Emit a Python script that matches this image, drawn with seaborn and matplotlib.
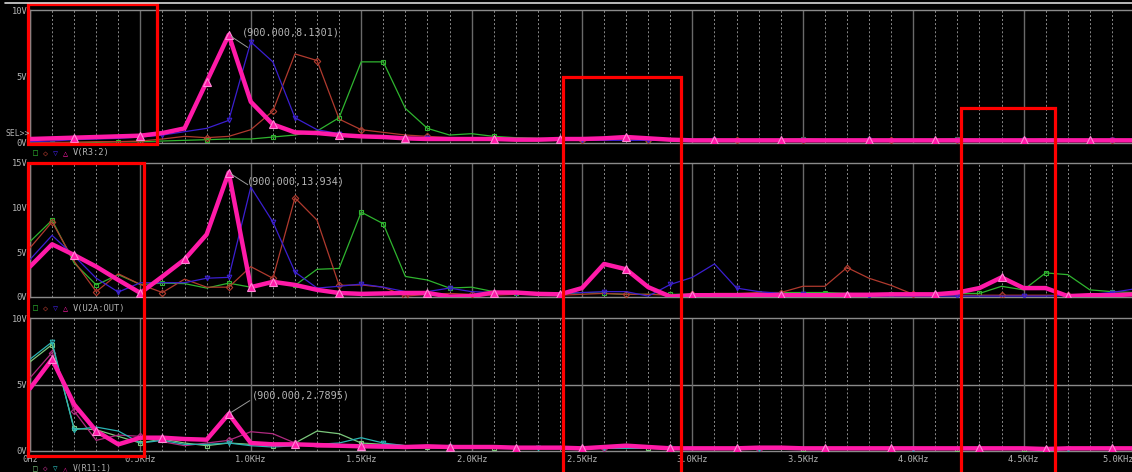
import matplotlib
matplotlib.use('Agg')
import matplotlib.pyplot as plt
import seaborn as sns
from matplotlib.lines import Line2D
from matplotlib.patches import Rectangle

W, H = 1132, 472

# frequency grid, Hz (100 Hz steps)
freq = list(range(0, 5001, 100))

# V(R3:2)
r3_green = [0.0, 0.0, 0.05, 0.05, 0.1, 0.1, 0.15, 0.2, 0.25, 0.3, 0.3, 0.45, 0.6, 0.9, 1.9, 6.1, 6.1, 2.6, 1.1, 0.6,
            0.7, 0.5, 0.4, 0.35, 0.3, 0.3, 0.25, 0.3, 0.25, 0.25, 0.25, 0.25, 0.2, 0.25, 0.25, 0.3, 0.25, 0.2, 0.25, 0.25,
            0.2, 0.25, 0.3, 0.25, 0.25, 0.2, 0.3, 0.25, 0.2, 0.25, 0.25]
r3_brown = [0.0, 0.05, 0.05, 0.1, 0.1, 0.15, 0.3, 0.5, 0.4, 0.5, 1.0, 2.4, 6.7, 6.2, 1.8, 1.0, 0.8, 0.6, 0.5, 0.4,
            0.35, 0.3, 0.25, 0.2, 0.2, 0.2, 0.25, 0.25, 0.2, 0.2, 0.2, 0.2, 0.25, 0.2, 0.2, 0.2, 0.25, 0.2, 0.2, 0.2,
            0.2, 0.2, 0.2, 0.2, 0.2, 0.2, 0.2, 0.2, 0.2, 0.2, 0.2]
r3_blue = [0.1, 0.15, 0.25, 0.3, 0.35, 0.45, 0.6, 0.85, 1.1, 1.7, 7.6, 6.1, 1.9, 1.0, 0.7, 0.5, 0.45, 0.4, 0.35, 0.3,
           0.25, 0.2, 0.2, 0.2, 0.2, 0.2, 0.2, 0.2, 0.2, 0.2, 0.2, 0.2, 0.2, 0.2, 0.2, 0.2, 0.2, 0.2, 0.2, 0.2,
           0.2, 0.2, 0.2, 0.2, 0.2, 0.2, 0.2, 0.2, 0.2, 0.2, 0.2]
r3_pink = [0.3, 0.35, 0.4, 0.45, 0.5, 0.55, 0.75, 1.1, 4.6, 8.1301, 3.1, 1.4, 0.8, 0.75, 0.6, 0.5, 0.45, 0.35, 0.3, 0.3,
           0.3, 0.3, 0.25, 0.25, 0.3, 0.3, 0.35, 0.45, 0.35, 0.25, 0.2, 0.2, 0.2, 0.2, 0.2, 0.2, 0.2, 0.2, 0.2, 0.2,
           0.2, 0.2, 0.2, 0.2, 0.2, 0.2, 0.2, 0.2, 0.2, 0.2, 0.2]

# V(U2A:OUT)
u2a_green = [6.2, 8.6, 3.8, 1.35, 2.5, 1.4, 1.55, 1.5, 1.0, 1.55, 1.1, 1.6, 1.3, 3.1, 3.2, 9.5, 8.2, 2.3, 1.9, 1.0,
             1.1, 0.6, 0.4, 0.3, 0.3, 0.5, 0.4, 0.3, 0.3, 0.3, 0.3, 0.3, 0.3, 0.4, 0.5, 0.5, 0.5, 0.4, 0.3, 0.3,
             0.2, 0.3, 0.4, 0.4, 1.2, 0.8, 2.7, 2.5, 0.8, 0.6, 0.5]
u2a_brown = [5.5, 8.4, 4.0, 0.6, 2.6, 1.4, 0.5, 2.0, 1.1, 1.1, 3.4, 2.1, 11.1, 8.6, 1.3, 1.35, 1.1, 0.1, 0.3, 0.4,
             0.3, 0.2, 0.3, 0.3, 0.2, 0.3, 0.4, 0.3, 0.3, 0.2, 0.3, 0.4, 0.4, 0.5, 0.5, 1.2, 1.2, 3.3, 2.1, 1.3,
             0.3, 0.2, 0.2, 0.2, 0.2, 0.2, 0.2, 0.2, 0.2, 0.2, 0.3]
u2a_blue = [4.2, 6.9, 4.6, 2.1, 0.55, 1.6, 1.6, 1.6, 2.1, 2.2, 12.3, 8.4, 2.8, 1.0, 1.2, 1.45, 1.1, 0.6, 0.6, 1.0,
            0.6, 0.5, 0.5, 0.4, 0.4, 0.5, 0.6, 0.6, 0.1, 1.4, 2.2, 3.7, 1.0, 0.6, 0.4, 0.3, 0.2, 0.1, 0.1, 0.1,
            0.1, 0.1, 0.1, 0.1, 0.1, 0.1, 0.1, 0.2, 0.3, 0.5, 0.9]
u2a_pink = [3.4, 5.9, 4.7, 3.4, 1.9, 0.45, 2.3, 4.2, 7.0, 13.934, 1.1, 1.7, 1.35, 0.8, 0.45, 0.35, 0.4, 0.45, 0.45, 0.05,
            0.1, 0.5, 0.5, 0.35, 0.3, 1.0, 3.7, 3.1, 1.1, 0.05, 0.2, 0.2, 0.2, 0.2, 0.2, 0.2, 0.2, 0.25, 0.25, 0.3,
            0.3, 0.3, 0.5, 1.0, 2.2, 1.0, 1.0, 0.1, 0.2, 0.2, 0.3]

# V(R11:1)
r11_lgreen = [6.7, 8.0, 1.7, 1.6, 1.1, 0.6, 0.9, 0.6, 0.4, 0.6, 0.5, 0.4, 0.6, 1.5, 1.3, 0.6, 0.5, 0.4, 0.3, 0.3,
              0.25, 0.2, 0.2, 0.2, 0.2, 0.2, 0.2, 0.2, 0.2, 0.15, 0.15, 0.15, 0.15, 0.15, 0.15, 0.15, 0.15, 0.15, 0.15, 0.15,
              0.15, 0.15, 0.15, 0.15, 0.15, 0.15, 0.15, 0.15, 0.15, 0.15, 0.15]
r11_purple = [5.5, 7.4, 3.0, 0.8, 1.2, 1.1, 0.7, 0.4, 0.6, 0.8, 1.45, 1.3, 0.6, 0.3, 0.3, 0.3, 0.2, 0.2, 0.2, 0.2,
              0.2, 0.2, 0.2, 0.2, 0.2, 0.2, 0.25, 0.3, 0.2, 0.2, 0.15, 0.15, 0.15, 0.15, 0.15, 0.15, 0.15, 0.15, 0.15, 0.15,
              0.15, 0.15, 0.15, 0.15, 0.15, 0.15, 0.15, 0.15, 0.15, 0.15, 0.15]
r11_teal = [6.9, 8.2, 1.6, 1.8, 1.5, 0.6, 0.8, 0.5, 0.5, 0.6, 0.4, 0.3, 0.4, 0.5, 0.6, 1.0, 0.6, 0.4, 0.3, 0.3,
            0.2, 0.2, 0.2, 0.2, 0.2, 0.2, 0.2, 0.2, 0.2, 0.2, 0.15, 0.15, 0.15, 0.15, 0.15, 0.15, 0.15, 0.15, 0.15, 0.15,
            0.15, 0.15, 0.15, 0.15, 0.15, 0.15, 0.15, 0.15, 0.15, 0.15, 0.15]
r11_pink = [4.7, 6.9, 3.5, 1.5, 0.5, 1.0, 1.0, 0.9, 0.85, 2.7895, 0.6, 0.5, 0.5, 0.45, 0.4, 0.35, 0.35, 0.3, 0.35, 0.3,
            0.3, 0.3, 0.25, 0.25, 0.25, 0.2, 0.3, 0.4, 0.3, 0.2, 0.2, 0.2, 0.2, 0.25, 0.25, 0.2, 0.2, 0.2, 0.2, 0.2,
            0.2, 0.2, 0.2, 0.2, 0.2, 0.2, 0.15, 0.2, 0.2, 0.2, 0.2]

x_ticks = list(range(0, 5001, 500))
x_labels = ['0Hz', '0.5KHz', '1.0KHz', '1.5KHz', '2.0KHz', '2.5KHz',
            '3.0KHz', '3.5KHz', '4.0KHz', '4.5KHz', '5.0KHz']

PINK = '#ff1aa8'
GREEN, BROWN, BLUE = '#2fb52f', '#b03a2e', '#3b1fd1'
LGREEN, PURPLE, TEAL = '#7cc87c', '#b02a80', '#2ab5b5'
TXT = '#b4b4b4'

sns.set_style('dark')
plt.rcParams['font.family'] = ['DejaVu Sans Mono', 'DejaVu Sans']

fig = plt.figure(figsize=(W / 100, H / 100), dpi=100, facecolor='black')


def box(left, top, right, bottom):
    return [left / W, 1 - bottom / H, (right - left) / W, (bottom - top) / H]


def fx(x):
    return x / W


def fy(y):
    return 1 - y / H


panels = [
    dict(pos=box(30, 10, 1134, 143), ymax=10, yt=[0, 5, 10], hgrid=[],
         traces=[(r3_green, GREEN, 's'), (r3_brown, BROWN, 'D'), (r3_blue, BLUE, 'v'), (r3_pink, PINK, '^')],
         legend='V(R3:2)', leg_y=153, cols=[GREEN, BROWN, BLUE, PINK],
         note='(900.000,8.1301)', peak=8.1301, text_at=(960, 8.3), line_to=(997, 7.07)),
    dict(pos=box(30, 163, 1134, 297), ymax=15, yt=[0, 5, 10, 15], hgrid=[],
         traces=[(u2a_green, GREEN, 's'), (u2a_brown, BROWN, 'D'), (u2a_blue, BLUE, 'v'), (u2a_pink, PINK, '^')],
         legend='V(U2A:OUT)', leg_y=308, cols=[GREEN, BROWN, BLUE, PINK],
         note='(900.000,13.934)', peak=13.934, text_at=(983, 12.9), line_to=(997, 12.4)),
    dict(pos=box(30, 318, 1134, 451), ymax=10, yt=[0, 5, 10], hgrid=[5],
         traces=[(r11_lgreen, LGREEN, 's'), (r11_purple, PURPLE, 'D'), (r11_teal, TEAL, 'v'), (r11_pink, PINK, '^')],
         legend='V(R11:1)', leg_y=468.5, cols=[LGREEN, PURPLE, TEAL, PINK],
         note='(900.000,2.7895)', peak=2.7895, text_at=(1006, 4.2), line_to=(1006, 3.9)),
]

for i, p in enumerate(panels):
    ax = fig.add_axes(p['pos'])
    ax.set_facecolor('black')
    ax.set_xlim(0, 5000)
    ax.set_ylim(0, p['ymax'])

    # grid: solid every 0.5 kHz, dotted every 0.1 kHz
    ax.set_xticks(x_ticks)
    ax.set_xticks(freq, minor=True)
    ax.grid(False)
    ax.grid(axis='x', which='major', color='#6a6a6a', lw=1.0, ls='-', zorder=0)
    ax.grid(axis='x', which='minor', color='#8a8a8a', lw=0.7, ls=(0, (2, 2.2)), zorder=0)
    for h in p['hgrid']:
        ax.axhline(h, color='#8a8a8a', lw=1.0, zorder=0)
    ax.set_axisbelow(True)

    for side in ['left', 'top', 'bottom']:
        ax.spines[side].set_color('#8a8a8a')
        ax.spines[side].set_linewidth(1.0)
    ax.spines['right'].set_visible(False)

    ax.set_yticks(p['yt'])
    ax.set_yticklabels([f'{v}V' for v in p['yt']])
    ax.tick_params(axis='both', which='both', length=0, colors=TXT, labelsize=6.3, pad=2)
    if i == 2:
        ax.set_xticklabels(x_labels)
        ax.tick_params(axis='x', pad=3)
        # last label sits on the figure edge: keep it inside
        ax.get_xticklabels()[-1].set_horizontalalignment('right')
    else:
        ax.set_xticklabels([])

    for k, (vals, col, mk) in enumerate(p['traces']):
        if mk == '^':
            sns.lineplot(x=freq, y=vals, ax=ax, color=col, lw=3.2, errorbar=None,
                         marker='^', ms=6, mfc=col, mec='#ff8ad6', mew=0.8,
                         markevery=(0.04, 0.068), zorder=5)
        else:
            sns.lineplot(x=freq, y=vals, ax=ax, color=col, lw=0.9, errorbar=None,
                         marker=mk, ms=3.3, mfc='none', mec=col, mew=0.8,
                         markevery=(0.02 + 0.012 * k, 0.068), zorder=3)

    # cursor label at the 900 Hz peak
    ax.annotate('', xy=(900, p['peak']), xytext=p['line_to'],
                arrowprops=dict(arrowstyle='-', color='#9a9a9a', lw=0.7), zorder=6)
    ax.text(p['text_at'][0], p['text_at'][1], p['note'], color=TXT, fontsize=7.3,
            va='center', ha='left', zorder=6)

    # trace legend row under the panel
    fs = 5.5 if i == 2 else 6
    for j, (g, c) in enumerate(zip(['□', '◇', '▽', '△'], p['cols'])):
        fig.text(fx(35 + 10 * j), fy(p['leg_y']), g, color=c, fontsize=fs,
                 ha='center', va='center')
    fig.text(fx(73), fy(p['leg_y']), p['legend'], color=TXT, fontsize=fs + 0.3,
             ha='left', va='center')

fig.text(fx(6), fy(133), 'SEL>>', color=TXT, fontsize=5.8, ha='left', va='center')

# light frame line at the very top
fig.add_artist(Line2D([fx(5), 1], [fy(3), fy(3)], color='#d8d8d8', lw=1.2))

# red highlight boxes
for x0, y0, x1, y1 in [(28, 4, 157, 144), (28, 163, 144, 456), (563, 77, 681, 474), (961, 108, 1055, 474)]:
    fig.add_artist(Rectangle((fx(x0), fy(y1)), (x1 - x0) / W, (y1 - y0) / H,
                             transform=fig.transFigure, fill=False, ec='#ff0000', lw=2.3))

fig.savefig('out.png', dpi=100, facecolor='black')
